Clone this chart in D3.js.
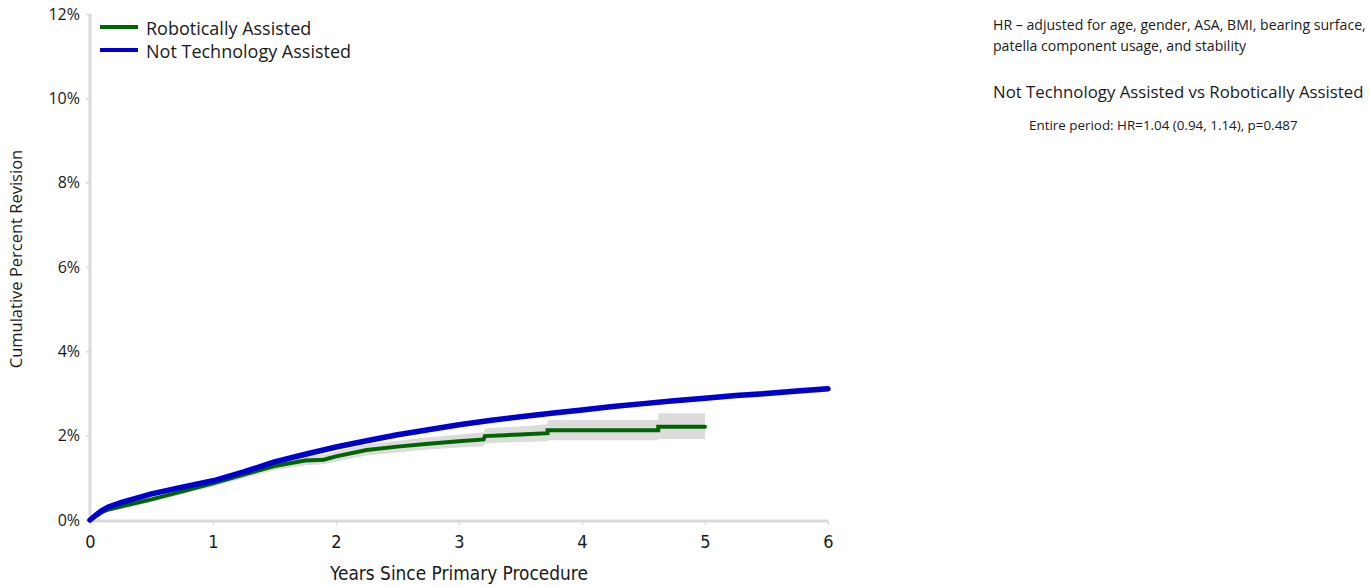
<!DOCTYPE html>
<html><head><meta charset="utf-8">
<script src="https://cdn.jsdelivr.net/npm/d3@7"></script>
<style>
body{margin:0;background:#fff;}
svg{display:block;}
</style></head>
<body><svg id="c" width="1370" height="586"></svg>
<script>
// ---- data ----
const seriesNames = ["Robotically Assisted", "Not Technology Assisted"];
const xTicks = [0, 1, 2, 3, 4, 5, 6];
const yTicks = [0, 2, 4, 6, 8, 10, 12];
const yTickLabels = ["0%", "2%", "4%", "6%", "8%", "10%", "12%"];

// Not Technology Assisted (years, cumulative % revision, CI)
const blueT  = [0,0.05,0.1,0.15,0.25,0.5,0.75,1,1.25,1.5,1.75,2,2.25,2.5,2.75,3,3.25,3.5,3.75,4,4.25,4.5,4.75,5,5.25,5.5,5.75,6];
const blueV  = [0,0.12,0.23,0.31,0.41,0.62,0.78,0.93,1.14,1.38,1.56,1.73,1.88,2.02,2.14,2.26,2.36,2.45,2.53,2.61,2.69,2.76,2.83,2.89,2.95,3.00,3.06,3.11];
const blueLo = [0,0.10,0.20,0.28,0.38,0.58,0.74,0.89,1.10,1.33,1.51,1.68,1.83,1.97,2.09,2.21,2.31,2.40,2.48,2.55,2.63,2.70,2.77,2.83,2.88,2.93,2.99,3.04];
const blueHi = [0,0.14,0.26,0.34,0.44,0.66,0.82,0.97,1.18,1.43,1.61,1.78,1.93,2.07,2.19,2.31,2.41,2.50,2.58,2.67,2.75,2.82,2.89,2.95,3.02,3.07,3.13,3.18];

// Robotically Assisted
const greenT  = [0,0.05,0.1,0.15,0.25,0.5,0.75,1,1.25,1.5,1.75,1.9,2,2.25,2.5,2.75,3,3.2,3.21,3.5,3.72,3.72,4.62,4.62,5.0];
const greenV  = [0,0.10,0.19,0.25,0.32,0.49,0.68,0.87,1.08,1.28,1.41,1.43,1.51,1.66,1.74,1.81,1.87,1.91,1.99,2.03,2.06,2.13,2.13,2.21,2.21];
const greenLo = [0,0.07,0.15,0.20,0.26,0.42,0.61,0.79,0.99,1.18,1.30,1.32,1.39,1.53,1.60,1.67,1.72,1.75,1.82,1.85,1.87,1.89,1.89,1.92,1.92];
const greenHi = [0,0.13,0.23,0.30,0.38,0.56,0.76,0.95,1.17,1.38,1.52,1.55,1.63,1.79,1.88,1.96,2.03,2.08,2.17,2.22,2.27,2.37,2.37,2.53,2.53];

const noteLines = ["HR \u2013 adjusted for age, gender, ASA, BMI, bearing surface,", "patella component usage, and stability"];
const compTitle = "Not Technology Assisted vs Robotically Assisted";
const compLine = "Entire period: HR=1.04 (0.94, 1.14), p=0.487";

// ---- chart ----
const svg = d3.select("#c");
const x = d3.scaleLinear().domain([0, 6]).range([90, 828]);
const y = d3.scaleLinear().domain([0, 12]).range([520, 14]);
const axisCol = "#d9d9d9";
const textCol = "#1a1a1a";
const sans = "'Open Sans', 'Noto Sans', sans-serif";
const narrow = "'Liberation Sans Narrow', 'DejaVu Sans Condensed', 'Open Sans', sans-serif";

// bands
const zipB = blueT.map((t,i)=>({t, v:blueV[i], lo:blueLo[i], hi:blueHi[i]}));
const zipG = greenT.map((t,i)=>({t, v:greenV[i], lo:greenLo[i], hi:greenHi[i]}));
const area = d3.area().x(d=>x(d.t)).y0(d=>y(d.lo)).y1(d=>y(d.hi));
svg.append("path").attr("d", area(zipG)).attr("fill", "#dcdcdc");
svg.append("path").attr("d", area(zipB)).attr("fill", "#dcdcdc");

// axes
const yAxis = d3.axisLeft(y).tickValues(yTicks).tickFormat((d,i)=>yTickLabels[i]).tickSize(4).tickPadding(6);
const gy = svg.append("g").attr("transform", "translate(90,0)").call(yAxis);
const xAxis = d3.axisBottom(x).tickValues(xTicks).tickFormat(d3.format("d")).tickSize(4).tickPadding(10);
const gx = svg.append("g").attr("transform", "translate(0,521)").call(xAxis);
[gx, gy].forEach(g=>{
  g.select(".domain").remove();
  g.selectAll(".tick line").attr("stroke", axisCol).attr("stroke-width", 1.5);
});
gy.selectAll(".tick text").attr("font-family", sans).attr("font-size", 16).attr("fill", textCol);
gx.selectAll(".tick text").attr("font-family", narrow).attr("font-size", 18).attr("fill", textCol);
svg.append("line").attr("x1", x(0)).attr("x2", x(0)).attr("y1", y(12)).attr("y2", 522).attr("stroke", axisCol).attr("stroke-width", 3);
svg.append("line").attr("x1", x(0)-1).attr("x2", x(6)).attr("y1", 521).attr("y2", 521).attr("stroke", axisCol).attr("stroke-width", 3);

// lines
const line = d3.line().x(d=>x(d.t)).y(d=>y(d.v));
svg.append("path").attr("d", line(zipG)).attr("fill", "none").attr("stroke", "#006400").attr("stroke-width", 4).attr("stroke-linecap", "round");
svg.append("path").attr("d", line(zipB)).attr("fill", "none").attr("stroke", "#0000cc").attr("stroke-width", 5.5).attr("stroke-linecap", "round");

// axis titles
svg.append("text").attr("x", (x(0)+x(6))/2).attr("y", 580).attr("text-anchor", "middle")
  .attr("font-family", narrow).attr("font-size", 18.9).attr("fill", textCol).text("Years Since Primary Procedure");
svg.append("text").attr("transform", "translate(22,259) rotate(-90)").attr("text-anchor", "middle")
  .attr("font-family", sans).attr("font-size", 16.5).attr("fill", textCol).text("Cumulative Percent Revision");

// legend
const legCols = ["#006400", "#0000cc"];
seriesNames.forEach((n,i)=>{
  const ly = 27 + i*23;
  svg.append("line").attr("x1", 100).attr("x2", 138).attr("y1", ly).attr("y2", ly).attr("stroke", legCols[i]).attr("stroke-width", 4);
  svg.append("text").attr("x", 146).attr("y", ly+8).attr("font-family", sans).attr("font-size", 18).attr("fill", textCol).text(n);
});

// notes
const noteSizes = [14.1, 14.1];
noteLines.forEach((t,i)=>{
  svg.append("text").attr("x", 993).attr("y", 30 + i*21).attr("font-family", sans).attr("font-size", noteSizes[i]).attr("fill", textCol).text(t);
});
svg.append("text").attr("x", 993).attr("y", 98).attr("font-family", sans).attr("font-size", 16.8).attr("fill", textCol).text(compTitle);
svg.append("text").attr("x", 1029).attr("y", 130).attr("font-family", sans).attr("font-size", 13.4).attr("fill", textCol).text(compLine);
</script></body></html>
